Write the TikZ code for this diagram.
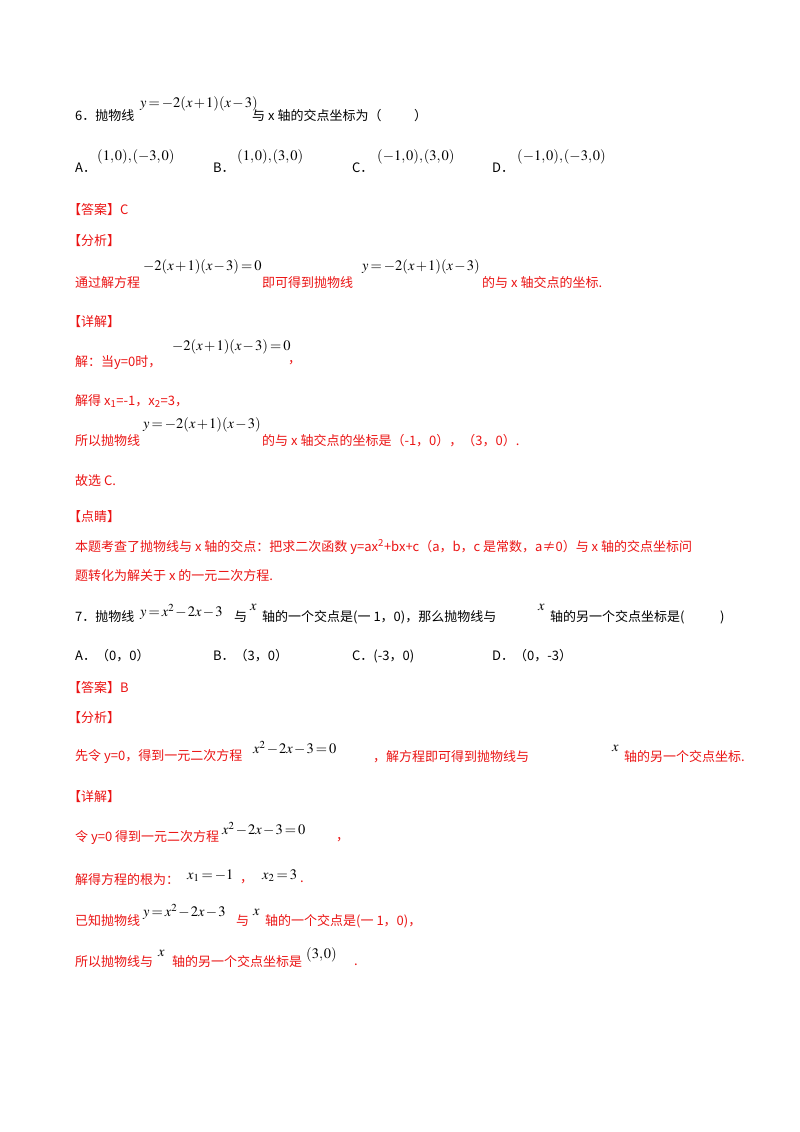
\documentclass[tikz,border=0pt]{standalone}
\usepackage{mathptmx}
\usepackage{fontspec}
\setmainfont{Liberation Serif}
\newfontfamily\cjk{Noto Sans CJK SC}
\definecolor{ans}{RGB}{235,20,20}
\thinmuskip=1mu \medmuskip=1.5mu \thickmuskip=2.5mu
\begin{document}
\begin{tikzpicture}[x=1pt,y=-1pt,
  t/.style={anchor=west,inner sep=0pt,font=\cjk\fontsize{13}{15}\selectfont},
  r/.style={t,text=ans},
  m/.style={anchor=west,inner sep=0pt,font=\fontsize{14.5}{16}\selectfont}]
\useasboundingbox[fill=white] (0,0) rectangle (800,1132);
% Q6
\node[t] (a1) at (75,116) {6．抛物线};
\node[m] (a2) at (140,104) {$y=-2(x+1)(x-3)$};
\node[t] (a3) at (252,116) {与 \textit{x} 轴的交点坐标为（\hspace{2.5em}）};
\node[t] (b1) at (75,168) {A．};
\node[m] (b2) at (97,157) {$(1,0),(-3,0)$};
\node[t] (b3) at (213,168) {B．};
\node[m] (b4) at (237,157) {$(1,0),(3,0)$};
\node[t] (b5) at (352,168) {C．};
\node[m] (b6) at (377,157) {$(-1,0),(3,0)$};
\node[t] (b7) at (492,168) {D．};
\node[m] (b8) at (517,157) {$(-1,0),(-3,0)$};
\node[r] (c1) at (68,210) {【答案】C};
\node[r] (c2) at (68,241) {【分析】};
\node[r] (d1) at (75,283) {通过解方程};
\node[m] (d2) at (143,267) {$-2(x+1)(x-3)=0$};
\node[r] (d3) at (262,283) {即可得到抛物线};
\node[m] (d4) at (362,267) {$y=-2(x+1)(x-3)$};
\node[r] (d5) at (482,283) {的与 x 轴交点的坐标.};
\node[r] (e1) at (68,322) {【详解】};
\node[r] (e2) at (75,363) {解：当y=0时，};
\node[m] (e3) at (172,347) {$-2(x+1)(x-3)=0$};
\node[r] (e4) at (288,363) {，};
\node[r] (f1) at (75,401) {解得 x\textsubscript{1}=-1，x\textsubscript{2}=3，};
\node[r] (g1) at (75,441) {所以抛物线};
\node[m] (g2) at (143,425) {$y=-2(x+1)(x-3)$};
\node[r] (g3) at (262,441) {的与 x 轴交点的坐标是（-1，0），（3，0）.};
\node[r] (h1) at (75,481) {故选 C.};
\node[r] (h2) at (68,517) {【点睛】};
\node[r] (h3) at (75,547) {本题考查了抛物线与 x 轴的交点：把求二次函数 y=ax\textsuperscript{2}+bx+c（a，b，c 是常数，a≠0）与 x 轴的交点坐标问};
\node[r] (h4) at (75,576) {题转化为解关于 x 的一元二次方程.};
% Q7
\node[t] (i1) at (75,617) {7．抛物线};
\node[m] (i2) at (140,612) {$y=x^2-2x-3$};
\node[t] (i3) at (234,617) {与};
\node[m] (i4) at (250,607) {$x$};
\node[t] (i5) at (262,617) {轴的一个交点是(一 1，0)，那么抛物线与};
\node[m] (i6) at (538,607) {$x$};
\node[t] (i7) at (550,617) {轴的另一个交点坐标是(};
\node[t] (i8) at (720,617) {)};
\node[t] (j1) at (75,656) {A．（0，0）};
\node[t] (j2) at (213,656) {B．（3，0）};
\node[t] (j3) at (352,656) {C．(-3，0)};
\node[t] (j4) at (492,656) {D．（0，-3）};
\node[r] (k1) at (68,688) {【答案】B};
\node[r] (k2) at (68,718) {【分析】};
\node[r] (l1) at (75,757) {先令 \textit{y}=0，得到一元二次方程};
\node[m] (l2) at (253,748) {$x^2-2x-3=0$};
\node[r] (l3) at (373,757) {，解方程即可得到抛物线与};
\node[m] (l4) at (612,748) {$x$};
\node[r] (l5) at (624,757) {轴的另一个交点坐标.};
\node[r] (m1) at (68,797) {【详解】};
\node[r] (n1) at (75,838) {令 \textit{y}=0 得到一元二次方程};
\node[m] (n2) at (222,829) {$x^2-2x-3=0$};
\node[r] (n3) at (336,840) {，};
\node[r] (o1) at (75,880) {解得方程的根为：};
\node[m] (o2) at (187,876) {$x_1=-1$};
\node[r] (o3) at (240,882) {，};
\node[m] (o4) at (262,876) {$x_2=3$};
\node[r] (o5) at (300,882) {.};
\node[r] (p1) at (75,921) {已知抛物线};
\node[m] (p2) at (143,912) {$y=x^2-2x-3$};
\node[r] (p3) at (236,921) {与};
\node[m] (p4) at (253,912) {$x$};
\node[r] (p5) at (265,921) {轴的一个交点是(一 1，0)，};
\node[r] (q1) at (75,962) {所以抛物线与};
\node[m] (q2) at (158,953) {$x$};
\node[r] (q3) at (172,962) {轴的另一个交点坐标是};
\node[m] (q4) at (306,955) {$(3,0)$};
\node[r] (q5) at (354,965) {.};
\end{tikzpicture}
\end{document}
